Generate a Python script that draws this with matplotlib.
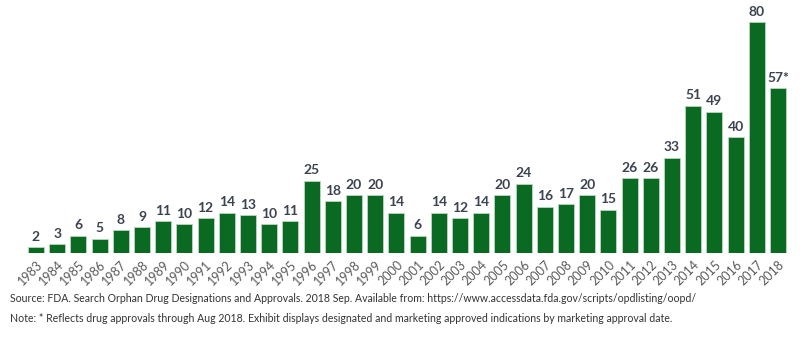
import numpy as np
from matplotlib import pyplot as plt

years = [str(y) for y in range(1983, 2019)]
approvals = [2, 3, 6, 5, 8, 9, 11, 10, 12, 14, 13, 10, 11, 25, 18, 20, 20, 14,
             6, 14, 12, 14, 20, 24, 16, 17, 20, 15, 26, 26, 33, 51, 49, 40, 80, 57]
value_labels = [str(v) for v in approvals[:-1]] + ["57*"]

source_note = ("Source: FDA. Search Orphan Drug Designations and Approvals. 2018 Sep. "
               "Available from: https://www.accessdata.fda.gov/scripts/opdlisting/oopd/")
footnote = ("Note: * Reflects drug approvals through Aug 2018. Exhibit displays designated "
            "and marketing approved indications by marketing approval date.")

plt.rcParams['font.family'] = ['Lato', 'DejaVu Sans']

fig = plt.figure(figsize=(8, 3.38), dpi=100)
ax = fig.add_axes([25.4 / 800, 85 / 338, 763.2 / 800, 231 / 338])

x = np.arange(len(years))
bars = ax.bar(x, approvals, width=0.76, color="#0a6a22", edgecolor="#bcd6c0", linewidth=0.6)

for xi, v, lab in zip(x, approvals, value_labels):
    ax.text(xi, v + 1.5, lab, ha="center", va="bottom", fontsize=10, fontweight="bold",
            color="#3b4351", clip_on=False)

ax.set_xlim(-0.5, len(years) - 0.5)
ax.set_ylim(0, 80)
ax.set_xticks(x)
ax.set_xticklabels(years, rotation=45, ha="right", rotation_mode="anchor",
                   fontsize=9, color="#5a5a5a")
ax.tick_params(axis="x", length=0, pad=4)
ax.set_yticks([])
for s in ax.spines.values():
    s.set_visible(False)

fig.text(10 / 800, 1 - 298 / 338, source_note, fontsize=7.6, color="#333333", va="center")
fig.text(10 / 800, 1 - 318 / 338, footnote, fontsize=7.6, color="#333333", va="center")

fig.savefig("out.png", dpi=100)
